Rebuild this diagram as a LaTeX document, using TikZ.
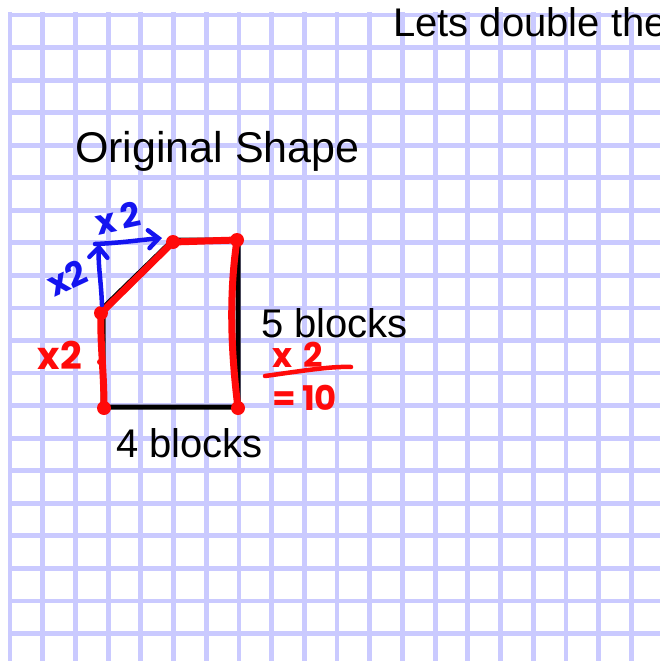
\documentclass[tikz,border=0pt]{standalone}
\usepackage{fontspec}
\setmainfont{Liberation Sans}
\newfontfamily\handfont{Poppins}
\usepackage{xcolor}
\usetikzlibrary{arrows.meta}
\definecolor{gridlav}{HTML}{CACAFF}
\definecolor{inkred}{HTML}{FF0A0A}
\definecolor{inkblue}{HTML}{1414F0}

\begin{document}
\begin{tikzpicture}[x=1pt, y=-1pt,
  gridline/.style={draw=gridlav, line width=4.8pt},
  printed/.style={font=\fontsize{40}{44}\selectfont, anchor=base west, inner sep=0pt},
  edge/.style={draw=black, line width=5pt, line join=round},
  redpen/.style={draw=inkred, line width=7pt, line cap=round, line join=round},
  bluepen/.style={draw=inkblue, line width=4.5pt, line cap=round,
    -{Straight Barb[length=10pt, width=18pt, line cap=round]}},
  vertex/.style={circle, fill=inkred, inner sep=0pt, minimum size=14pt},
  redtag/.style={font=\handfont\bfseries\fontsize{38}{40}\selectfont, text=inkred, inner sep=0pt},
  bluetag/.style={font=\handfont\bfseries\fontsize{34}{36}\selectfont, text=inkblue, inner sep=0pt}
]
\useasboundingbox (0,0) rectangle (660,661);
% squared paper
\begin{scope}
  \clip (0,0) rectangle (660,661);
  \foreach \i in {0,...,20}
    \draw[gridline] ({10+32.7*\i},12) -- ({10+32.7*\i},672);
  \foreach \j in {0,...,20}
    \draw[gridline] (8,{15+32.55*\j}) -- (672,{15+32.55*\j});
\end{scope}

\node[printed] (heading) at (393,37) {Lets double the};
\node[printed, font=\fontsize{43}{46}\selectfont] (orig) at (75,162) {Original Shape};
\node[printed] (side) at (261,337) {5 blocks};
\node[printed] (base) at (116,457) {4 blocks};

% the shape
\coordinate (bl) at (103,407);
\coordinate (br) at (238,407);
\coordinate (tr) at (238,240);
\coordinate (tm) at (173,240);
\coordinate (ml) at (103,308);
\draw[edge] (bl) -- (br) -- (tr) -- (tm) -- (ml) -- cycle;

% red pen
\node[vertex] (d1) at (104,408) {};
\node[vertex] (d2) at (101,313) {};
\node[vertex] (d3) at (173,242) {};
\node[vertex] (d4) at (237,240) {};
\node[vertex] (d5) at (238,408) {};
\draw[redpen] (d1.center) .. controls (104,370) and (100,345) .. (d2.center);
\draw[redpen] (d2.center) -- (d3.center) -- (d4.center)
  .. controls (228,300) and (232,360) .. (d5.center);
\node[circle, fill=inkred, inner sep=0pt, minimum size=6pt] (speck) at (100,362) {};
\node[redtag] (leftx) at (60,355) {x2};
\node[redtag, font=\handfont\bfseries\fontsize{34}{36}\selectfont] (rightx) at (298,355) {x\,\,2};
\coordinate (fa) at (265,376);
\coordinate (fb) at (351,367);
\draw[redpen, line width=4.5pt] (fa) .. controls (295,372) and (330,366) .. (fb);
\node[redtag, font=\handfont\bfseries\fontsize{34}{36}\selectfont] (result) at (305,398) {=\,10};

% blue pen
\coordinate (bv0) at (102,305);
\coordinate (bv1) at (99,244);
\coordinate (bh0) at (95,244);
\coordinate (bh1) at (162,238);
\draw[bluepen] (bv0) .. controls (101,280) and (98,265) .. (bv1);
\draw[bluepen] (bh0) .. controls (120,243) and (140,240) .. (bh1);
\node[bluetag, rotate=12] (topx) at (118,218) {x\,2};
\node[bluetag, rotate=25] (slopex) at (67,278) {x2};
\end{tikzpicture}
\end{document}
